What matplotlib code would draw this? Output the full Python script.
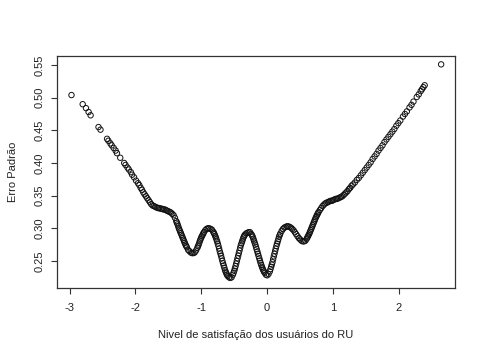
import numpy as np
import matplotlib
matplotlib.use('Agg')
import matplotlib.pyplot as plt

plt.rcParams['font.family'] = ['Liberation Sans', 'DejaVu Sans']
plt.rcParams['axes.unicode_minus'] = False

# ── Values (theta vs standard error) ─────────────────────────────────────────
theta_left = [-2.97, -2.80, -2.75, -2.71, -2.68, -2.56, -2.53, -2.43, -2.41, -2.38,
              -2.36, -2.33, -2.30, -2.28, -2.23, -2.17, -2.15, -2.12, -2.10, -2.07,
              -2.05, -2.02, -1.99, -1.96, -1.94, -1.92, -1.90, -1.88, -1.86, -1.84,
              -1.82]
se_left = [0.504, 0.490, 0.484, 0.478, 0.473, 0.455, 0.451, 0.437, 0.434, 0.430,
           0.427, 0.423, 0.419, 0.415, 0.408, 0.400, 0.397, 0.393, 0.390, 0.386,
           0.382, 0.378, 0.373, 0.369, 0.366, 0.362, 0.359, 0.355, 0.352, 0.349,
           0.346]

theta_mid = [-1.80, -1.78, -1.76, -1.74, -1.72, -1.70, -1.68, -1.66, -1.64, -1.62,
             -1.60, -1.58, -1.56, -1.54, -1.52, -1.50, -1.48, -1.46, -1.44, -1.42,
             -1.40, -1.38, -1.36, -1.34, -1.32, -1.30, -1.28, -1.26, -1.24, -1.22,
             -1.20, -1.18, -1.16, -1.14, -1.12, -1.10, -1.08, -1.06, -1.04, -1.02,
             -1.00, -0.98, -0.96, -0.94, -0.92, -0.90, -0.88, -0.86, -0.84, -0.82,
             -0.80, -0.78, -0.76, -0.74, -0.72, -0.70, -0.68, -0.66, -0.64, -0.62,
             -0.60, -0.58, -0.56, -0.54, -0.52, -0.50, -0.48, -0.46, -0.44, -0.42,
             -0.40, -0.38, -0.36, -0.34, -0.32, -0.30, -0.28, -0.26, -0.24, -0.22,
             -0.20, -0.18, -0.16, -0.14, -0.12, -0.10, -0.08, -0.06, -0.04, -0.02,
             0.00, 0.02, 0.04, 0.06, 0.08, 0.10, 0.12, 0.14, 0.16, 0.18,
             0.20, 0.22, 0.24, 0.26, 0.28, 0.30, 0.32, 0.34, 0.36, 0.38,
             0.40, 0.42, 0.44, 0.46, 0.48, 0.50, 0.52, 0.54, 0.56, 0.58,
             0.60, 0.62, 0.64, 0.66, 0.68, 0.70, 0.72, 0.74, 0.76, 0.78,
             0.80, 0.82, 0.84, 0.86, 0.88, 0.90, 0.92, 0.94, 0.96, 0.98,
             1.00, 1.02, 1.04, 1.06, 1.08, 1.10, 1.12, 1.14, 1.16, 1.18,
             1.20, 1.22, 1.24, 1.26, 1.28, 1.30]
se_mid = [0.343, 0.340, 0.337, 0.335, 0.334, 0.333, 0.332, 0.331, 0.331, 0.330,
          0.330, 0.329, 0.329, 0.328, 0.327, 0.326, 0.325, 0.324, 0.322, 0.320,
          0.316, 0.311, 0.306, 0.300, 0.295, 0.290, 0.285, 0.280, 0.275, 0.271,
          0.267, 0.265, 0.263, 0.262, 0.262, 0.263, 0.266, 0.270, 0.275, 0.281,
          0.286, 0.290, 0.294, 0.297, 0.299, 0.300, 0.300, 0.299, 0.298, 0.295,
          0.291, 0.286, 0.280, 0.273, 0.265, 0.258, 0.250, 0.243, 0.236, 0.231,
          0.227, 0.225, 0.224, 0.225, 0.229, 0.235, 0.242, 0.250, 0.258, 0.266,
          0.274, 0.280, 0.286, 0.290, 0.292, 0.293, 0.294, 0.294, 0.291, 0.287,
          0.281, 0.275, 0.268, 0.261, 0.254, 0.247, 0.241, 0.236, 0.232, 0.229,
          0.228, 0.230, 0.234, 0.241, 0.248, 0.257, 0.265, 0.273, 0.280, 0.287,
          0.292, 0.296, 0.299, 0.301, 0.302, 0.303, 0.303, 0.302, 0.301, 0.299,
          0.297, 0.294, 0.291, 0.288, 0.285, 0.283, 0.281, 0.280, 0.280, 0.281,
          0.284, 0.288, 0.292, 0.297, 0.302, 0.307, 0.312, 0.317, 0.321, 0.325,
          0.328, 0.331, 0.334, 0.336, 0.338, 0.339, 0.340, 0.341, 0.342, 0.342,
          0.343, 0.344, 0.345, 0.345, 0.346, 0.347, 0.348, 0.349, 0.351, 0.353,
          0.355, 0.357, 0.360, 0.362, 0.365, 0.367]

# extra respondents on the steep stretches of the curve
theta_steep = [-1.37, -1.35, -1.33, -1.31, -1.29, -1.27, -1.25, -1.23,
               -1.05, -1.03, -1.01, -0.99, -0.97,
               -0.81, -0.79, -0.77, -0.75, -0.73, -0.71, -0.69, -0.67, -0.65, -0.63, -0.61,
               -0.51, -0.49, -0.47, -0.45, -0.43, -0.41, -0.39, -0.37, -0.35,
               -0.23, -0.21, -0.19, -0.17, -0.15, -0.13, -0.11, -0.09, -0.07, -0.05,
               0.05, 0.07, 0.09, 0.11, 0.13, 0.15, 0.17, 0.19,
               0.61, 0.63, 0.65, 0.67, 0.69, 0.71, 0.73, 0.75, 0.77]
se_steep = [0.3085, 0.303, 0.2975, 0.2925, 0.2875, 0.2825, 0.2775, 0.273,
            0.2725, 0.278, 0.2835, 0.288, 0.292,
            0.293, 0.2885, 0.283, 0.2765, 0.269, 0.2615, 0.254, 0.2465, 0.2395, 0.2335, 0.229,
            0.232, 0.2385, 0.246, 0.254, 0.262, 0.270, 0.277, 0.283, 0.288,
            0.289, 0.284, 0.278, 0.2715, 0.2645, 0.2575, 0.2505, 0.244, 0.2385, 0.234,
            0.2375, 0.2445, 0.2525, 0.261, 0.269, 0.2765, 0.2835, 0.2895,
            0.286, 0.290, 0.2945, 0.2995, 0.3045, 0.3095, 0.3145, 0.319, 0.323]

theta_right = [1.33, 1.36, 1.39, 1.42, 1.45, 1.48, 1.51, 1.54, 1.57, 1.60,
               1.63, 1.66, 1.69, 1.72, 1.75, 1.78, 1.81, 1.84, 1.87, 1.90,
               1.93, 1.96, 1.99, 2.02, 2.06, 2.09, 2.12, 2.16, 2.19, 2.22,
               2.27, 2.30, 2.33, 2.35, 2.37, 2.39, 2.64]
se_right = [0.370, 0.374, 0.377, 0.381, 0.385, 0.389, 0.393, 0.397, 0.401, 0.406,
            0.410, 0.414, 0.419, 0.423, 0.427, 0.432, 0.436, 0.440, 0.444, 0.448,
            0.452, 0.457, 0.461, 0.465, 0.471, 0.475, 0.479, 0.485, 0.489, 0.494,
            0.501, 0.505, 0.510, 0.513, 0.516, 0.519, 0.551]

x_ticks = [-3, -2, -1, 0, 1, 2]
y_ticks = [0.25, 0.30, 0.35, 0.40, 0.45, 0.50, 0.55]

theta = np.concatenate([theta_left, theta_mid, theta_steep, theta_right])
se = np.concatenate([se_left, se_mid, se_steep, se_right])

fig = plt.figure(figsize=(4.85, 3.59), dpi=100)
ax = fig.add_axes([0.1175, 0.198, 0.8206, 0.646])

ax.scatter(theta, se, s=15, facecolors='none', edgecolors='#111111', linewidths=0.7)

ax.set_xlim(-3.19, 2.85)
ax.set_ylim(0.2087, 0.5638)
ax.set_xticks(x_ticks)
ax.set_xticklabels([str(t) for t in x_ticks])
ax.set_yticks(y_ticks)
ax.set_yticklabels([f'{t:.2f}' for t in y_ticks], rotation=90, va='center')
ax.tick_params(direction='out', length=4, width=0.8, colors='#333333',
               labelsize=8, labelcolor='#222222')
ax.tick_params(axis='x', pad=7)
ax.tick_params(axis='y', pad=5)
for sp in ax.spines.values():
    sp.set_color('#333333')
    sp.set_linewidth(0.9)

ax.set_xlabel('Nivel de satisfação dos usuários do RU', fontsize=8, color='#222222', labelpad=12)
ax.set_ylabel('Erro Padrão', fontsize=8, color='#222222', labelpad=12)

plt.savefig('out.png', dpi=100)
plt.close()
